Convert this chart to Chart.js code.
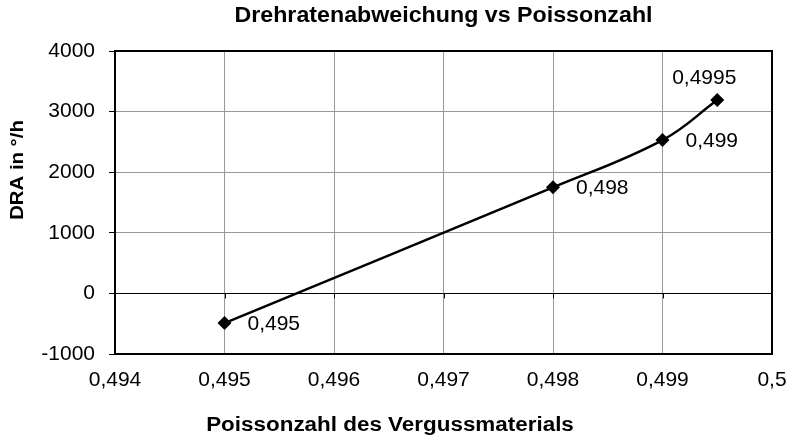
<!DOCTYPE html>
<html lang="de">
<head>
<meta charset="UTF-8">
<title>Drehratenabweichung vs Poissonzahl</title>
<style>
  html, body { margin: 0; padding: 0; background: #fff; }
  #wrap { width: 791px; height: 438px; }
</style>
</head>
<body>
<div id="wrap"><canvas id="draChart" width="791" height="438"></canvas></div>
<script src="https://cdn.jsdelivr.net/npm/chart.js"></script>
<script>
  // Messwerte: Poissonzahl -> Drehratenabweichung
  const poisson = [0.495, 0.498, 0.499, 0.4995];
  const dra = [-490, 1750, 2530, 3190];
  const pointLabels = ['0,495', '0,498', '0,499', '0,4995'];

  // Achsenteilung
  const xTicks = [0.494, 0.495, 0.496, 0.497, 0.498, 0.499, 0.5];
  const yTicks = [-1000, 0, 1000, 2000, 3000, 4000];

  const FONT = '"Liberation Sans", Arial, sans-serif';
  const comma = v => String(v).replace('.', ',');

  // fetter Text, in Schreibrichtung etwas gedehnt
  function wideText(ctx, text, x, y, size, stretch, angle) {
    ctx.save();
    ctx.translate(x, y);
    if (angle) ctx.rotate(angle);
    ctx.scale(stretch, 1);
    ctx.font = 'bold ' + size + 'px ' + FONT;
    ctx.fillStyle = '#000';
    ctx.textAlign = 'center';
    ctx.textBaseline = 'middle';
    ctx.fillText(text, 0, 0);
    ctx.restore();
  }

  // Diagrammtitel und Achsentitel
  const titlePlugin = {
    id: 'titles',
    afterDraw(chart) {
      const { ctx, chartArea: a } = chart;
      wideText(ctx, 'Drehratenabweichung vs Poissonzahl', (a.left + a.right) / 2, 16, 21.5, 1.08);
      wideText(ctx, 'Poissonzahl des Vergussmaterials', 390, 426, 19.5, 1.15);
      wideText(ctx, 'DRA in °/h', 18, 170, 18, 1.13, -Math.PI / 2);
    }
  };

  // Rahmen um die Zeichenfläche + kleine Striche an der Nulllinie
  const framePlugin = {
    id: 'frame',
    afterDraw(chart) {
      const { ctx, chartArea: a, scales } = chart;
      const y0 = scales.y.getPixelForValue(0);
      ctx.save();
      ctx.strokeStyle = '#000';
      ctx.lineWidth = 1;
      xTicks.slice(1, -1).forEach(v => {
        const x = Math.round(scales.x.getPixelForValue(v)) + 0.5;
        ctx.beginPath();
        ctx.moveTo(x, y0);
        ctx.lineTo(x, y0 + 5);
        ctx.stroke();
      });
      ctx.lineWidth = 2;
      ctx.strokeRect(a.left, a.top, a.right - a.left, a.bottom - a.top);
      ctx.restore();
    }
  };

  // Punktbeschriftungen
  const labelPlugin = {
    id: 'pointLabels',
    afterDatasetsDraw(chart) {
      const { ctx } = chart;
      const pts = chart.getDatasetMeta(0).data;
      ctx.save();
      ctx.font = '21px ' + FONT;
      ctx.fillStyle = '#000';
      ctx.textBaseline = 'middle';
      pts.forEach((p, i) => {
        if (i === pts.length - 1) {
          ctx.textAlign = 'center';
          ctx.fillText(pointLabels[i], p.x - 13, p.y - 22);
        } else {
          ctx.textAlign = 'left';
          ctx.fillText(pointLabels[i], p.x + 23, p.y + 1);
        }
      });
      ctx.restore();
    }
  };

  new Chart(document.getElementById('draChart'), {
    type: 'line',
    data: {
      datasets: [{
        data: poisson.map((x, i) => ({ x, y: dra[i] })),
        borderColor: '#000',
        backgroundColor: '#000',
        borderWidth: 2.5,
        tension: 0.4,
        pointStyle: 'rectRot',
        pointRadius: 7,
        pointBorderWidth: 0,
        fill: false
      }]
    },
    options: {
      responsive: false,
      animation: false,
      layout: { padding: { left: 0, right: 19, top: 51, bottom: 0 } },
      plugins: {
        legend: { display: false },
        tooltip: { enabled: false },
        title: { display: false }
      },
      scales: {
        x: {
          type: 'linear',
          min: 0.494,
          max: 0.5,
          afterBuildTicks: s => { s.ticks = xTicks.map(value => ({ value })); },
          afterFit: s => {
            s.height = 84;
            s.paddingLeft = 0;
            s.paddingRight = 0;
          },
          grid: { color: '#999', lineWidth: 1, drawTicks: false },
          border: { display: false },
          ticks: {
            color: '#000',
            padding: 14,
            maxRotation: 0,
            font: { family: FONT, size: 21 },
            callback: v => comma(v)
          }
        },
        y: {
          min: -1000,
          max: 4000,
          afterBuildTicks: s => { s.ticks = yTicks.map(value => ({ value })); },
          afterFit: s => { s.width = 115; },
          grid: {
            color: c => (c.tick && c.tick.value === 0 ? '#000' : '#999'),
            lineWidth: 1,
            tickColor: '#000',
            tickLength: 6
          },
          border: { display: false },
          ticks: {
            color: '#000',
            padding: 14,
            font: { family: FONT, size: 21 },
            callback: v => String(v)
          }
        }
      }
    },
    plugins: [framePlugin, labelPlugin, titlePlugin]
  });
</script>
</body>
</html>
